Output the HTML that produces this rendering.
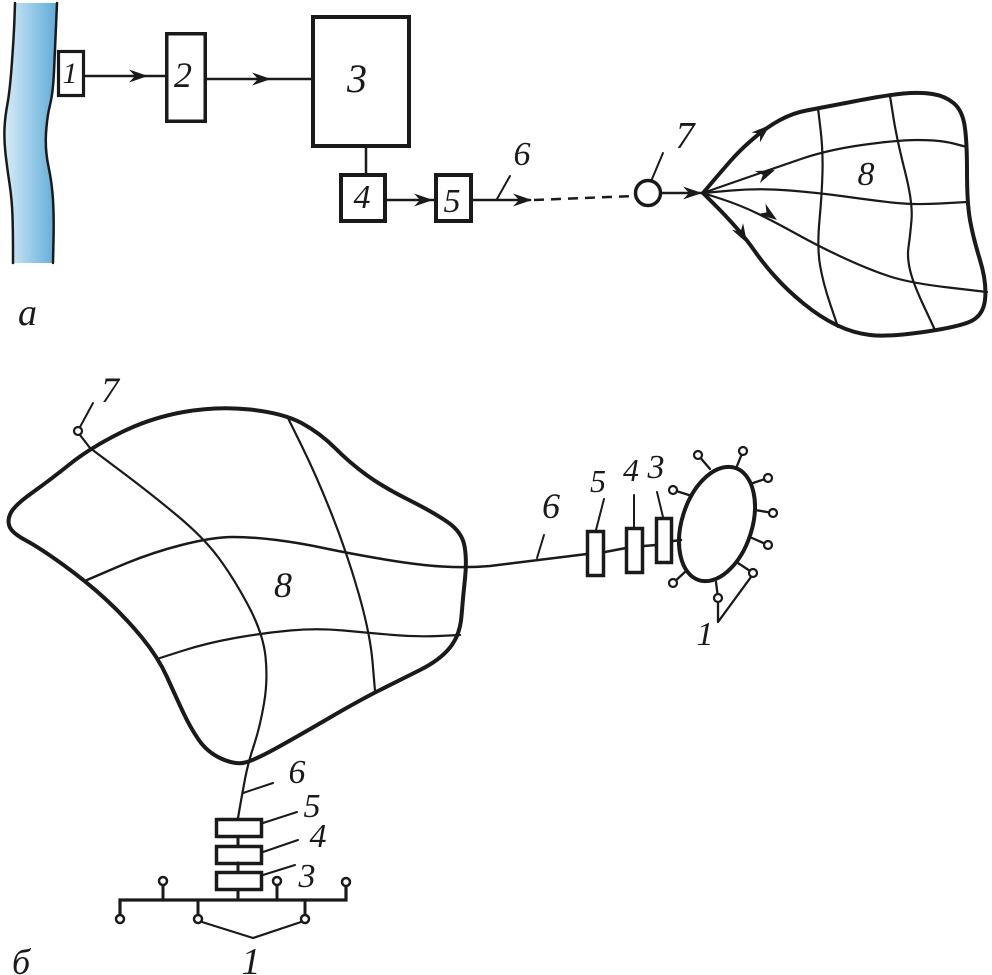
<!DOCTYPE html>
<html><head><meta charset="utf-8"><style>
html,body{margin:0;padding:0;background:#fff;}
svg{display:block;}
text{font-family:"Liberation Serif",serif;font-style:italic;fill:#1a1a1a;}
</style></head><body>
<svg width="992" height="975" viewBox="0 0 992 975" xmlns="http://www.w3.org/2000/svg">
<defs>
<linearGradient id="rv" x1="0" y1="0" x2="1" y2="0">
<stop offset="0" stop-color="#d6ecf8"/><stop offset="1" stop-color="#5fabd8"/>
</linearGradient>
<path id="ah" d="M0,0 L-19,-6.5 L-13,0 L-19,6.5 Z" fill="#1a1a1a"/>
</defs>
<g fill="none" stroke="#1a1a1a" stroke-linecap="round" stroke-linejoin="round">
<!-- river -->
<path d="M15,3 L14.5,18 Q14,33 12,61.5 Q10,90 7.5,103.5 Q5,117 4.5,128.5 Q4,140 5.5,153.5 Q7,167 9.5,183.5 Q12,200 12.5,216.5 Q13,233 13,248 L13,263 L53,263 L53.5,240 Q54,217 53,200 Q52,183 48.5,166.5 Q45,150 46,133.5 Q47,117 50,105 Q53,93 54,71.5 Q55,50 56,26.5 L57,3 Z" fill="url(#rv)" stroke="none"/>
<path d="M15,3 L14.5,18 Q14,33 12,61.5 Q10,90 7.5,103.5 Q5,117 4.5,128.5 Q4,140 5.5,153.5 Q7,167 9.5,183.5 Q12,200 12.5,216.5 Q13,233 13,248 L13,263" stroke-width="2.5"/>
<path d="M57,3 L56,26.5 Q55,50 54,71.5 Q53,93 50,105 Q47,117 46,133.5 Q45,150 48.5,166.5 Q52,183 53,200 Q54,217 53.5,240 L53,263" stroke-width="2.5"/>

<!-- part a boxes -->
<rect x="58.5" y="51.5" width="25" height="44" fill="#fff" stroke-width="3.2" stroke-linejoin="miter"/>
<rect x="166.75" y="33.75" width="38.5" height="87.5" stroke-width="3.5" stroke-linejoin="miter"/>
<rect x="313" y="17" width="96" height="129" stroke-width="4" stroke-linejoin="miter"/>
<rect x="341" y="175" width="44" height="46" stroke-width="4" stroke-linejoin="miter"/>
<rect x="436" y="175" width="35" height="46" stroke-width="4" stroke-linejoin="miter"/>
<line x1="85" y1="76" x2="165" y2="76" stroke-width="2.5"/>
<line x1="207" y1="79" x2="311" y2="79" stroke-width="2.5"/>
<line x1="366" y1="148" x2="366" y2="173" stroke-width="2.5"/>
<line x1="387" y1="200" x2="434" y2="200" stroke-width="2.5"/>
<line x1="473" y1="200" x2="530" y2="200" stroke-width="2.5"/>
<line x1="534" y1="200" x2="634" y2="196" stroke-width="2.5" stroke-dasharray="10 7" stroke-linecap="butt"/>
<line x1="497" y1="199" x2="510" y2="176" stroke-width="2"/>
<line x1="652" y1="179" x2="663" y2="153" stroke-width="2"/>
<circle cx="648" cy="193" r="12.5" fill="#fff" stroke-width="3.5"/>
<line x1="661" y1="193" x2="703" y2="193" stroke-width="2.5"/>

<!-- top mesh -->
<path d="M703,193 L711.5,183 Q720,173 730,161.5 Q740,150 753.5,138.5 Q767,127 780,120 Q793,113 806.5,110.5 Q820,108 853.5,101.5 Q887,95 903.5,93.5 Q920,92 932.5,94 Q945,96 953.5,103 Q962,110 964.5,125 Q967,140 967,171.5 Q967,203 970,220 Q973,237 980,260 Q987,283 985,300 Q983,317 968,322.5 Q953,328 920,332.5 Q887,337 870,335 Q853,333 836.5,325 Q820,317 803.5,303.5 Q787,290 775,276.5 Q763,263 755,251.5 Q747,240 737,228.5 Q727,217 715,205 L703,193" stroke-width="4"/>
<path d="M703,193 L721.5,186.5 Q740,180 757.5,174 Q775,168 801,159 Q827,150 862,145 Q897,140 918.5,140 Q940,140 953.5,143.5 L967,147" stroke-width="2.2"/>
<path d="M703,193 L731.5,190.5 Q760,188 790,190.5 Q820,193 845,196.5 Q870,200 891.5,202.5 Q913,205 940,203.5 L967,202" stroke-width="2.2"/>
<path d="M703,193 L721.5,199 Q740,205 757.5,213.5 Q775,222 797.5,234.5 Q820,247 845,258.5 Q870,270 890,276.5 Q910,283 948.5,287.5 L987,292" stroke-width="2.2"/>
<path d="M818,108 L820.5,129 Q823,150 822.5,171.5 Q822,193 819.5,220 Q817,247 820,265 Q823,283 830.5,305 L838,327" stroke-width="2.2"/>
<path d="M890,96 L893.5,118 Q897,140 905,171.5 Q913,203 911.5,220 Q910,237 908.5,247 Q907,257 910,270 Q913,283 924,306.5 L935,330" stroke-width="2.2"/>

<!-- bottom mesh -->
<path d="M120,433 Q150,418 183.5,412 Q217,406 250,409.5 Q283,413 301.5,423 Q320,433 335,448 Q350,463 366.5,475 Q383,487 408,499.5 Q433,512 447.5,522 Q462,532 464.5,546 Q467,560 465,578.5 Q463,597 461.5,616 Q460,635 450,647.5 Q440,660 420,670 Q400,680 380,690 Q360,700 330,717.5 Q300,735 277.5,747.5 Q255,760 245,762.5 Q235,765 221,758.5 Q207,752 198.5,739.5 Q190,727 183,712 Q176,697 167,677 Q158,657 141.5,637 Q125,617 106,599.5 Q87,582 63.5,565 Q40,548 26,540.5 Q12,533 9.5,526.5 Q7,520 11,512.5 Q15,505 32.5,492.5 Q50,480 70,464 Q90,448 120,433 Z" stroke-width="4"/>
<path d="M80,435 L90,448 L120,470.5 Q150,493 176.5,515 Q203,537 218,557 Q233,577 248,605 Q263,633 265.5,656.5 Q268,680 264,703.5 Q260,727 254,745 Q248,763 245,779 Q242,795 240,806.5 L238,818" stroke-width="2.2"/>
<path d="M287,416 L302,446.5 Q317,477 332,515 Q347,553 358.5,593 Q370,633 372.5,661.5 L375,691" stroke-width="2.2"/>
<path d="M87,580 L118.5,566.5 Q150,553 181.5,545 Q213,537 233,537 Q253,537 276.5,540 Q300,543 323.5,548 Q347,553 382,559 Q417,565 442,566.5 Q467,568 490,566 L587,554" stroke-width="2.5"/>
<path d="M160,658 L183.5,650.5 Q207,643 235,638 Q263,633 290,630.5 Q317,628 343.5,630.5 Q370,633 393.5,635 Q417,637 438.5,636 L460,635" stroke-width="2.2"/>
<circle cx="78" cy="431" r="4" fill="#fff" stroke-width="2.2"/>
<line x1="80" y1="427" x2="93" y2="403" stroke-width="2"/>

<!-- right group -->
<line x1="537" y1="558" x2="544" y2="535" stroke-width="2"/>
<line x1="596" y1="530" x2="604" y2="499" stroke-width="2"/>
<line x1="634" y1="527" x2="634" y2="495" stroke-width="2"/>
<line x1="663" y1="517" x2="657" y2="492" stroke-width="2"/>
<line x1="605" y1="552" x2="626" y2="548" stroke-width="2.5"/>
<line x1="644" y1="546" x2="656" y2="545" stroke-width="2.5"/>
<line x1="673" y1="541" x2="681" y2="540" stroke-width="2.5"/>
<rect x="587.5" y="531.5" width="16" height="44" stroke-width="3.5" stroke-linejoin="miter"/>
<rect x="626.5" y="528.5" width="16" height="44" stroke-width="3.5" stroke-linejoin="miter"/>
<rect x="656.5" y="518.5" width="15" height="44" stroke-width="3.5" stroke-linejoin="miter"/>
<ellipse cx="717" cy="524" rx="35" ry="59" transform="rotate(18 717 524)" stroke-width="4"/>
<g stroke-width="2.3">
<line x1="698" y1="455" x2="710" y2="469"/>
<line x1="743" y1="451" x2="737" y2="466"/>
<line x1="768" y1="478" x2="753" y2="483"/>
<line x1="773" y1="513" x2="755" y2="510"/>
<line x1="768" y1="545" x2="752" y2="538"/>
<line x1="753" y1="573" x2="738" y2="563"/>
<line x1="718" y1="598" x2="716" y2="582"/>
<line x1="673" y1="583" x2="685" y2="572"/>
<line x1="673" y1="490" x2="692" y2="496"/>
<path d="M718,602 L718,622 L751,577"/>
</g>
<g stroke-width="2.2" fill="#fff">
<circle cx="698" cy="455" r="4"/>
<circle cx="743" cy="451" r="4"/>
<circle cx="768" cy="478" r="4"/>
<circle cx="773" cy="513" r="4"/>
<circle cx="768" cy="545" r="4"/>
<circle cx="753" cy="573" r="4"/>
<circle cx="718" cy="598" r="4"/>
<circle cx="673" cy="583" r="4"/>
<circle cx="673" cy="490" r="4"/>
</g>

<!-- bottom stack -->
<line x1="243" y1="793" x2="273" y2="783" stroke-width="2"/>
<line x1="263" y1="823" x2="297" y2="812" stroke-width="2"/>
<line x1="263" y1="852" x2="298" y2="840" stroke-width="2"/>
<line x1="263" y1="875" x2="295" y2="865" stroke-width="2"/>
<line x1="238" y1="837" x2="238" y2="845" stroke-width="3"/>
<line x1="238" y1="863" x2="238" y2="872" stroke-width="3"/>
<line x1="238" y1="890" x2="238" y2="900" stroke-width="3"/>
<rect x="216.5" y="819.5" width="45" height="17" stroke-width="3.5" stroke-linejoin="miter"/>
<rect x="216.5" y="846.5" width="45" height="17" stroke-width="3.5" stroke-linejoin="miter"/>
<rect x="216.5" y="872.5" width="45" height="17" stroke-width="3.5" stroke-linejoin="miter"/>
<path d="M120,915 L120,900 L346,900 L346,886" stroke-width="3.2" stroke-linecap="butt" stroke-linejoin="miter"/>
<g stroke-width="3">
<line x1="163" y1="900" x2="163" y2="885"/>
<line x1="277" y1="900" x2="277" y2="885"/>
<line x1="198" y1="900" x2="198" y2="915"/>
<line x1="305" y1="900" x2="305" y2="915"/>
</g>
<path d="M202,922 L253,938 L301,922" stroke-width="2.2"/>
<g stroke-width="2.5" fill="#fff">
<circle cx="120" cy="919" r="4"/>
<circle cx="163" cy="881" r="4"/>
<circle cx="277" cy="881" r="4"/>
<circle cx="346" cy="882" r="4"/>
<circle cx="198" cy="919" r="4"/>
<circle cx="305" cy="919" r="4"/>
</g>
</g>

<!-- arrowheads -->
<use href="#ah" transform="translate(148,76)"/>
<use href="#ah" transform="translate(271,79)"/>
<use href="#ah" transform="translate(433,200)"/>
<use href="#ah" transform="translate(532,200)"/>
<use href="#ah" transform="translate(702,193)"/>
<use href="#ah" transform="translate(770,125) rotate(-41)"/>
<use href="#ah" transform="translate(775,170) rotate(-22)"/>
<use href="#ah" transform="translate(777,220) rotate(36)"/>
<use href="#ah" transform="translate(747,243) rotate(60)"/>

<!-- labels -->
<text x="70" y="83" font-size="30" text-anchor="middle">1</text>
<text x="183" y="87" font-size="36" text-anchor="middle">2</text>
<text x="357" y="92" font-size="40" text-anchor="middle">3</text>
<text x="362" y="208" font-size="34" text-anchor="middle">4</text>
<text x="452" y="212" font-size="34" text-anchor="middle">5</text>
<text x="522" y="165" font-size="34" text-anchor="middle">6</text>
<text x="685" y="148" font-size="38" text-anchor="middle">7</text>
<text x="866" y="185" font-size="34" text-anchor="middle">8</text>
<text x="18" y="325" font-size="38">а</text>

<text x="110" y="402" font-size="36" text-anchor="middle">7</text>
<text x="283" y="597" font-size="36" text-anchor="middle">8</text>
<text x="551" y="518" font-size="36" text-anchor="middle">6</text>
<text x="598" y="492" font-size="32" text-anchor="middle">5</text>
<text x="631" y="481" font-size="32" text-anchor="middle">4</text>
<text x="656" y="478" font-size="34" text-anchor="middle">3</text>
<text x="705" y="645" font-size="34" text-anchor="middle">1</text>
<text x="297" y="783" font-size="34" text-anchor="middle">6</text>
<text x="312" y="817" font-size="34" text-anchor="middle">5</text>
<text x="318" y="847" font-size="34" text-anchor="middle">4</text>
<text x="307" y="887" font-size="34" text-anchor="middle">3</text>
<text x="251" y="974" font-size="38" text-anchor="middle">1</text>
<text x="12" y="974" font-size="36">б</text>
</svg>
</body></html>
